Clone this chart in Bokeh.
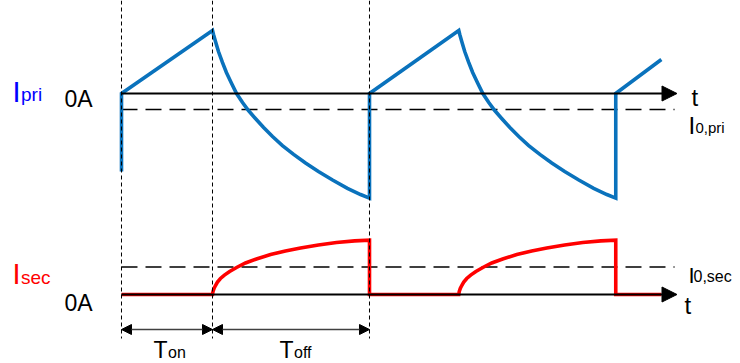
import numpy as np
from bokeh.plotting import figure
from bokeh.models import Range1d, Arrow, NormalHead, Label
from bokeh.embed import file_html
from bokeh.resources import INLINE

# ---- data (time in µs, currents in arbitrary A) ----
t_on_start = [0.0, 10.0]          # switch-on instants
t_off_start = [3.67, 13.6]        # switch-off instants
t_off_end = [10.0, 19.93]         # end of off intervals
t_last = 21.77                    # end of last drawn ramp

i_pri_start = -3.71               # primary current at first instant
i_pri_last = 1.62                 # primary current at end of last ramp
i0_pri = -0.76                    # I0,pri level
i0_sec = 1.53                     # I0,sec level

# off-interval shapes, time since switch-off
dt_pri = [0.0, 0.04, 0.12, 0.24, 0.40, 0.56, 0.77, 0.97, 1.21, 1.45, 1.73, 2.06,
          2.42, 2.82, 3.27, 3.75, 4.27, 4.84, 5.44, 5.97, 6.33]
i_pri_off = [3.0, 2.81, 2.48, 2.0, 1.48, 1.0, 0.48, 0.0, -0.43, -0.81, -1.19, -1.62,
             -2.05, -2.48, -2.90, -3.31, -3.71, -4.12, -4.52, -4.81, -4.98]
dt_sec = [0.0, 0.02, 0.06, 0.12, 0.20, 0.32, 0.48, 0.69, 0.97, 1.33, 1.77, 2.34,
          2.94, 3.55, 4.27, 5.0, 5.73, 6.33]
i_sec_off = [0.0, 0.17, 0.33, 0.5, 0.69, 0.89, 1.08, 1.28, 1.5, 1.75, 1.97, 2.22,
             2.42, 2.58, 2.75, 2.89, 2.98, 3.02]

axis_end = 22.4
dash_end = 22.3

# ---- build waveforms ----
tp = [t_on_start[0], t_on_start[0]]
ip = [i_pri_start, 0.0]
ts = [t_on_start[0]]
isec = [0.0]
for k in range(2):
    tp += [t_off_start[k] + d for d in dt_pri]
    ip += i_pri_off
    tp += [t_off_end[k]]
    ip += [0.0]
    ts += [t_off_start[k] + d for d in dt_sec]
    isec += i_sec_off
    ts += [t_off_end[k]]
    isec += [0.0]
tp += [t_last]
ip += [i_pri_last]
ts += [t_last]
isec += [0.0]

W, H = 740, 363
p = figure(width=W, height=H, output_backend="svg", toolbar_location=None,
           x_range=Range1d(-4.879, 24.960), y_range=Range1d(-12.857, 4.429),
           min_border=0, min_border_left=0, min_border_right=0,
           min_border_top=0, min_border_bottom=0)
p.extra_y_ranges = {"sec": Range1d(-3.833, 16.333), "py": Range1d(363, 0)}
p.extra_x_ranges = {"px": Range1d(0, 740)}
p.xaxis.visible = False
p.yaxis.visible = False
p.grid.visible = False
p.outline_line_color = None
p.background_fill_color = "white"
p.border_fill_color = "white"

FONT = "Liberation Sans"

# axes (arrows)
for rng in ("default", "sec"):
    p.add_layout(Arrow(end=NormalHead(size=15, fill_color="black", line_color="black"),
                       x_start=0, y_start=0, x_end=axis_end, y_end=0, y_range_name=rng,
                       line_width=2, line_color="black"))

# I0 dashed levels
p.line([0, dash_end], [i0_pri, i0_pri], line_color="black", line_width=1.6, line_dash="16 8")
p.line([0, dash_end], [i0_sec, i0_sec], line_color="black", line_width=1.6, line_dash="16 8",
       y_range_name="sec")

# waveforms
p.line(tp, ip, line_color="#0A72BC", line_width=3.6, line_join="miter")
p.line(ts, isec, line_color="#FF0000", line_width=3.6, line_join="miter", y_range_name="sec")

# vertical dashed marks
marks = [t_on_start[0], t_off_start[0], t_off_end[0]]
p.segment(x0=marks, y0=[0] * 3, x1=marks, y1=[338] * 3, y_range_name="py",
          line_color="black", line_width=1, line_dash="4 3")

# dimension arrows
for a, b in [(t_on_start[0], t_off_start[0]), (t_off_start[0], t_off_end[0])]:
    p.add_layout(Arrow(start=NormalHead(size=10, fill_color="black", line_color="black"),
                       end=NormalHead(size=10, fill_color="black", line_color="black"),
                       x_start=a, x_end=b, y_start=329, y_end=329, y_range_name="py",
                       line_color="#404040", line_width=1.5))

def lab(x, y, text, size, color="black", align="left"):
    p.add_layout(Label(x=x, y=y, text=text, x_range_name="px", y_range_name="py",
                       text_font=FONT, text_font_size=f"{size}px", text_color=color,
                       text_align=align, text_baseline="alphabetic"))

# left labels
lab(12, 91, "I", 29, "#0000FF")
lab(20.5, 94, "pri", 19, "#0000FF")
lab(64, 98, "0A", 23)
lab(12, 273, "I", 29, "#FF0000")
lab(20.5, 277, "sec", 19, "#FF0000")
lab(64, 302, "0A", 23)

# right labels
lab(691, 97, "t", 24)
lab(684, 305, "t", 24)
lab(688, 125, "I", 24)
lab(695, 127, "0,pri", 15)
lab(688, 275, "I", 22)
lab(693, 276, "0,sec", 16)

# dimension labels
lab(167, 349, "T", 23, align="right")
lab(167.5, 352, "on", 16)
lab(293, 349, "T", 23, align="right")
lab(293.5, 352, "off", 16)

open("out.html", "w").write(file_html(p, INLINE))
